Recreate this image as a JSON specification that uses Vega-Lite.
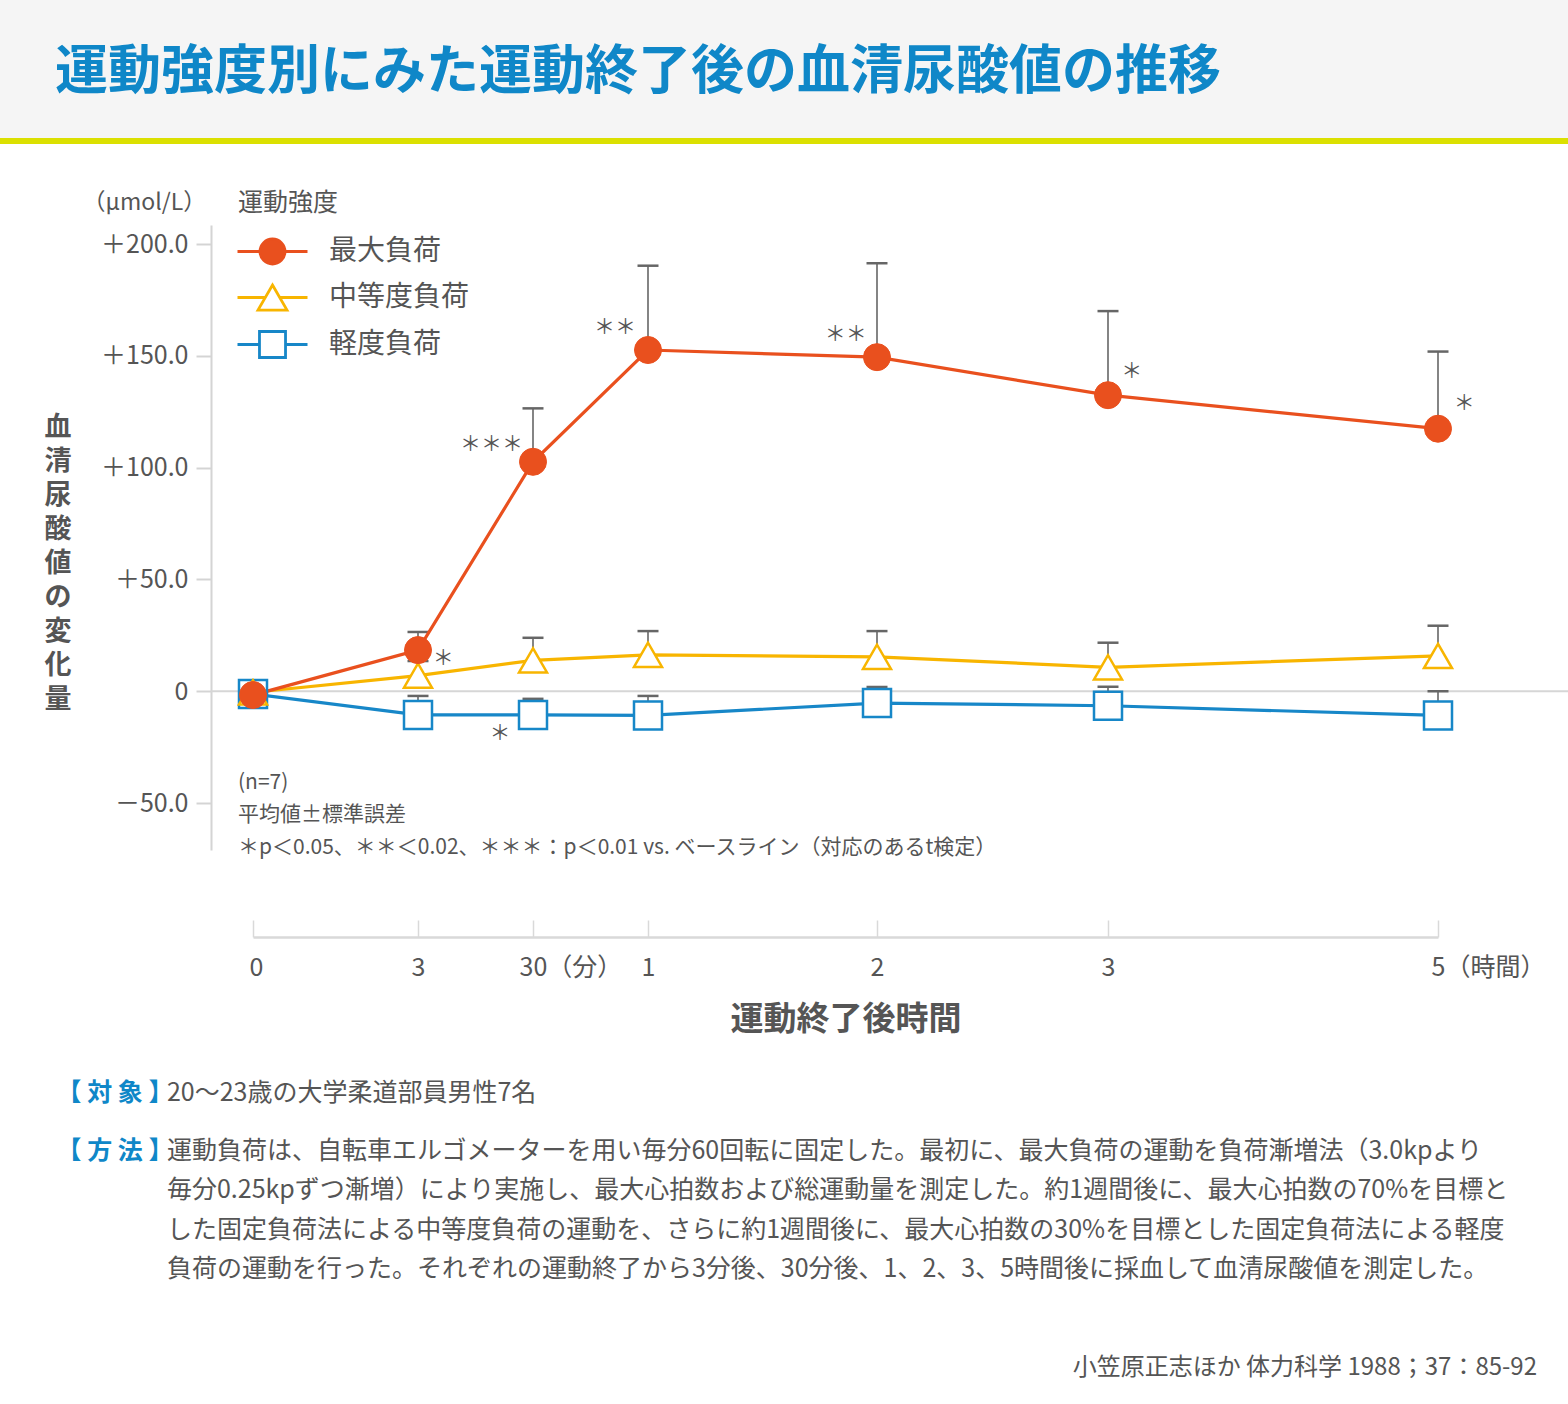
{
  "$schema": "https://vega.github.io/schema/vega-lite/v6.json",
  "width": 1357,
  "height": 625,
  "autosize": {"type": "none"},
  "padding": {"left": 211, "top": 225, "right": 0, "bottom": 554},
  "background": "#ffffff",
  "config": {
    "font": "Noto Sans CJK JP",
    "view": {"stroke": null},
    "axis": {"labelFont": "Noto Sans CJK JP", "titleFont": "Noto Sans CJK JP"},
    "legend": {"labelFont": "Noto Sans CJK JP", "titleFont": "Noto Sans CJK JP"}
  },
  "datasets": {
    "uric": [
      {"series": "軽度負荷", "t": 0, "mean": -1.2, "upper": null},
      {"series": "軽度負荷", "t": 3, "mean": -10.6, "upper": -2.1},
      {"series": "軽度負荷", "t": 30, "mean": -10.6, "upper": -3.4},
      {"series": "軽度負荷", "t": 60, "mean": -10.8, "upper": -2.1},
      {"series": "軽度負荷", "t": 120, "mean": -5.3, "upper": 1.9},
      {"series": "軽度負荷", "t": 180, "mean": -6.5, "upper": 2.0},
      {"series": "軽度負荷", "t": 300, "mean": -10.8, "upper": 0.0},
      {"series": "中等度負荷", "t": 0, "mean": -0.5, "upper": null},
      {"series": "中等度負荷", "t": 3, "mean": 7.0, "upper": 13.5},
      {"series": "中等度負荷", "t": 30, "mean": 13.8, "upper": 23.9},
      {"series": "中等度負荷", "t": 60, "mean": 16.3, "upper": 26.9},
      {"series": "中等度負荷", "t": 120, "mean": 15.4, "upper": 26.9},
      {"series": "中等度負荷", "t": 180, "mean": 10.7, "upper": 21.7},
      {"series": "中等度負荷", "t": 300, "mean": 15.8, "upper": 29.3},
      {"series": "最大負荷", "t": 0, "mean": -1.7, "upper": null},
      {"series": "最大負荷", "t": 3, "mean": 18.4, "upper": 26.5},
      {"series": "最大負荷", "t": 30, "mean": 102.6, "upper": 126.5},
      {"series": "最大負荷", "t": 60, "mean": 152.6, "upper": 190.3},
      {"series": "最大負荷", "t": 120, "mean": 149.4, "upper": 191.4},
      {"series": "最大負荷", "t": 180, "mean": 132.4, "upper": 170.0},
      {"series": "最大負荷", "t": 300, "mean": 117.4, "upper": 151.9}
    ],
    "sig": [
      {"t": 8.94, "v": 14.3, "label": "＊"},
      {"t": 20.26, "v": 110.1, "label": "＊＊＊"},
      {"t": 51.4, "v": 162.3, "label": "＊＊"},
      {"t": 111.8, "v": 159.3, "label": "＊＊"},
      {"t": 188.6, "v": 142.6, "label": "＊"},
      {"t": 309.5, "v": 128.4, "label": "＊"},
      {"t": 22.25, "v": -19.3, "label": "＊"}
    ],
    "one": [{}]
  },
  "layer": [
    {
      "data": {"name": "one"},
      "mark": {"type": "rect", "fill": "#f5f5f5"},
      "encoding": {
        "x": {"datum": -10, "type": "quantitative", "title": "運動終了後時間", "scale": {"type": "linear", "domain": [0, 3, 30, 60, 120, 180, 300], "range": [42, 207, 322, 437, 666, 897, 1227], "nice": false, "zero": false}},
        "x2": {"datum": 500},
        "y": {"datum": 313.6, "type": "quantitative", "title": null, "scale": {"type": "linear", "domain": [-71, 208.5], "nice": false, "zero": false}},
        "y2": {"datum": 247.4}
      }
    },
    {
      "data": {"name": "one"},
      "mark": {"type": "rect", "fill": "#dbe000"},
      "encoding": {
        "x": {"datum": -10, "type": "quantitative", "title": "運動終了後時間", "scale": {"type": "linear", "domain": [0, 3, 30, 60, 120, 180, 300], "range": [42, 207, 322, 437, 666, 897, 1227], "nice": false, "zero": false}},
        "x2": {"datum": 500},
        "y": {"datum": 247.4, "type": "quantitative", "title": null, "scale": {"type": "linear", "domain": [-71, 208.5], "nice": false, "zero": false}},
        "y2": {"datum": 244.7}
      }
    },
    {
      "data": {"name": "one"},
      "mark": {"type": "rule", "color": "#d6d6d6", "strokeWidth": 2},
      "encoding": {
        "y": {"datum": 0, "type": "quantitative", "title": null, "scale": {"type": "linear", "domain": [-71, 208.5], "nice": false, "zero": false}}
      }
    },
    {
      "data": {"name": "uric"},
      "transform": [{"filter": "isValid(datum.upper)"}],
      "mark": {"type": "rule", "color": "#666666", "strokeWidth": 1.6},
      "encoding": {
        "x": {
          "field": "t", "type": "quantitative", "title": "運動終了後時間",
          "scale": {"type": "linear", "domain": [0, 3, 30, 60, 120, 180, 300], "range": [42, 207, 322, 437, 666, 897, 1227], "nice": false, "zero": false},
          "axis": {
            "values": [0, 3, 30, 60, 120, 180, 300],
            "labelExpr": "datum.value == 0 ? '0' : datum.value == 3 ? '3' : datum.value == 30 ? '30（分）' : datum.value == 60 ? '1' : datum.value == 120 ? '2' : datum.value == 180 ? '3' : '5（時間）'",
            "labelAlign": {"condition": {"test": "datum.value == 30 || datum.value == 300", "value": "left"}, "value": "center"},
            "labelOffset": {"condition": [{"test": "datum.value == 30", "value": -14}, {"test": "datum.value == 300", "value": -7}, {"test": "datum.value == 0", "value": 3}], "value": 0},
            "offset": 87,
            "grid": false,
            "domainColor": "#d9d9d9",
            "domainWidth": 2.5,
            "tickColor": "#d9d9d9",
            "tickWidth": 1.5,
            "tickSize": -17,
            "labelPadding": 35,
            "labelFontSize": 25,
            "labelColor": "#555555",
            "labelFlush": false,
            "labelOverlap": false,
            "titleFontSize": 33,
            "titleFontWeight": "bold",
            "titleColor": "#555555",
            "titlePadding": 23
          }
        },
        "y": {
          "field": "mean", "type": "quantitative", "title": null,
          "scale": {"type": "linear", "domain": [-71, 208.5], "nice": false, "zero": false},
          "axis": {
            "values": [-50, 0, 50, 100, 150, 200],
            "labelExpr": "datum.value > 0 ? '＋' + format(datum.value, '.1f') : datum.value < 0 ? '－' + format(-datum.value, '.1f') : '0'",
            "grid": false,
            "domainColor": "#d4d4d4",
            "domainWidth": 2,
            "tickColor": "#d4d4d4",
            "tickWidth": 2,
            "tickSize": 15,
            "labelPadding": 8,
            "labelFontSize": 25,
            "labelColor": "#555555"
          }
        },
        "y2": {"field": "upper"}
      }
    },
    {
      "data": {"name": "uric"},
      "transform": [{"filter": "isValid(datum.upper)"}],
      "mark": {"type": "point", "shape": "M-1,0H1", "size": 441, "filled": false, "stroke": "#666666", "strokeWidth": 2.5, "opacity": 1},
      "encoding": {
        "x": {"field": "t", "type": "quantitative", "title": "運動終了後時間", "scale": {"type": "linear", "domain": [0, 3, 30, 60, 120, 180, 300], "range": [42, 207, 322, 437, 666, 897, 1227], "nice": false, "zero": false}},
        "y": {"field": "upper", "type": "quantitative", "title": null, "scale": {"type": "linear", "domain": [-71, 208.5], "nice": false, "zero": false}}
      }
    },
    {
      "data": {"name": "uric"},
      "transform": [{"filter": "datum.series == '軽度負荷'"}],
      "mark": {"type": "line", "strokeWidth": 3.2, "stroke": "#1787c8"},
      "encoding": {
        "x": {"field": "t", "type": "quantitative", "title": "運動終了後時間", "scale": {"type": "linear", "domain": [0, 3, 30, 60, 120, 180, 300], "range": [42, 207, 322, 437, 666, 897, 1227], "nice": false, "zero": false}},
        "y": {"field": "mean", "type": "quantitative", "title": null, "scale": {"type": "linear", "domain": [-71, 208.5], "nice": false, "zero": false}}
      }
    },
    {
      "data": {"name": "uric"},
      "transform": [{"filter": "datum.series == '中等度負荷'"}],
      "mark": {"type": "line", "strokeWidth": 3.2, "stroke": "#f8b500"},
      "encoding": {
        "x": {"field": "t", "type": "quantitative", "title": "運動終了後時間", "scale": {"type": "linear", "domain": [0, 3, 30, 60, 120, 180, 300], "range": [42, 207, 322, 437, 666, 897, 1227], "nice": false, "zero": false}},
        "y": {"field": "mean", "type": "quantitative", "title": null, "scale": {"type": "linear", "domain": [-71, 208.5], "nice": false, "zero": false}}
      }
    },
    {
      "data": {"name": "uric"},
      "transform": [{"filter": "datum.series == '最大負荷'"}],
      "mark": {"type": "line", "strokeWidth": 3.2, "stroke": "#e9501e"},
      "encoding": {
        "x": {"field": "t", "type": "quantitative", "title": "運動終了後時間", "scale": {"type": "linear", "domain": [0, 3, 30, 60, 120, 180, 300], "range": [42, 207, 322, 437, 666, 897, 1227], "nice": false, "zero": false}},
        "y": {"field": "mean", "type": "quantitative", "title": null, "scale": {"type": "linear", "domain": [-71, 208.5], "nice": false, "zero": false}}
      }
    },
    {
      "data": {"name": "uric"},
      "transform": [{"filter": "datum.series == '軽度負荷'"}],
      "mark": {"type": "point", "shape": "square", "filled": false, "fill": "#ffffff", "stroke": "#1787c8", "size": 784, "strokeWidth": 2.5, "opacity": 1},
      "encoding": {
        "x": {"field": "t", "type": "quantitative", "title": "運動終了後時間", "scale": {"type": "linear", "domain": [0, 3, 30, 60, 120, 180, 300], "range": [42, 207, 322, 437, 666, 897, 1227], "nice": false, "zero": false}},
        "y": {"field": "mean", "type": "quantitative", "title": null, "scale": {"type": "linear", "domain": [-71, 208.5], "nice": false, "zero": false}}
      }
    },
    {
      "data": {"name": "uric"},
      "transform": [{"filter": "datum.series == '中等度負荷'"}],
      "mark": {"type": "point", "shape": "triangle-up", "filled": false, "fill": "#ffffff", "stroke": "#f8b500", "size": 784, "strokeWidth": 2.5, "opacity": 1},
      "encoding": {
        "x": {"field": "t", "type": "quantitative", "title": "運動終了後時間", "scale": {"type": "linear", "domain": [0, 3, 30, 60, 120, 180, 300], "range": [42, 207, 322, 437, 666, 897, 1227], "nice": false, "zero": false}},
        "y": {"field": "mean", "type": "quantitative", "title": null, "scale": {"type": "linear", "domain": [-71, 208.5], "nice": false, "zero": false}}
      }
    },
    {
      "data": {"name": "uric"},
      "transform": [{"filter": "datum.series == '最大負荷'"}],
      "mark": {"type": "point", "shape": "circle", "filled": true, "fill": "#e9501e", "stroke": "#e9501e", "size": 729, "strokeWidth": 1, "opacity": 1},
      "encoding": {
        "x": {"field": "t", "type": "quantitative", "title": "運動終了後時間", "scale": {"type": "linear", "domain": [0, 3, 30, 60, 120, 180, 300], "range": [42, 207, 322, 437, 666, 897, 1227], "nice": false, "zero": false}},
        "y": {"field": "mean", "type": "quantitative", "title": null, "scale": {"type": "linear", "domain": [-71, 208.5], "nice": false, "zero": false}}
      }
    },
    {
      "data": {"name": "uric"},
      "transform": [{"filter": "false"}],
      "mark": {"type": "point", "filled": false, "size": 784, "strokeWidth": 2.5, "opacity": 1},
      "encoding": {
        "x": {"field": "t", "type": "quantitative", "title": "運動終了後時間", "scale": {"type": "linear", "domain": [0, 3, 30, 60, 120, 180, 300], "range": [42, 207, 322, 437, 666, 897, 1227], "nice": false, "zero": false}},
        "y": {"field": "mean", "type": "quantitative", "title": null, "scale": {"type": "linear", "domain": [-71, 208.5], "nice": false, "zero": false}},
        "color": {
          "field": "series", "type": "nominal", "title": "運動強度",
          "scale": {"domain": ["最大負荷", "中等度負荷", "軽度負荷"], "range": ["#e9501e", "#f8b500", "#1787c8"]},
          "legend": {
            "orient": "none",
            "legendX": 27,
            "legendY": -34,
            "padding": 0,
            "titleFontSize": 25,
            "titleFontWeight": "normal",
            "titleColor": "#555555",
            "titlePadding": 20,
            "labelFontSize": 28,
            "labelColor": "#555555",
            "symbolSize": 784,
            "symbolStrokeWidth": 2.8,
            "symbolOffset": 19,
            "labelOffset": 41,
            "rowPadding": 9
          }
        },
        "shape": {"field": "series", "type": "nominal", "title": "運動強度", "scale": {"domain": ["最大負荷", "中等度負荷", "軽度負荷"], "range": [
          "M-2.5,0H2.5M0.893,0A0.893,0.893,0,1,1,-0.893,0A0.893,0.893,0,1,1,0.893,0Z",
          "M-2.5,0H-0.52M0.52,0H2.5M0,-0.897L1.036,0.897L-1.036,0.897Z",
          "M-2.5,0H-0.93M0.93,0H2.5M-0.93,-0.93H0.93V0.93H-0.93Z"
        ]}},
        "fill": {"field": "series", "type": "nominal", "title": "運動強度", "scale": {"domain": ["最大負荷", "中等度負荷", "軽度負荷"], "range": ["#e9501e", "#ffffff", "#ffffff"]}}
      }
    },
    {
      "data": {"name": "sig"},
      "mark": {"type": "text", "fontSize": 21, "color": "#555555", "align": "center", "baseline": "middle"},
      "encoding": {
        "x": {"field": "t", "type": "quantitative", "title": "運動終了後時間", "scale": {"type": "linear", "domain": [0, 3, 30, 60, 120, 180, 300], "range": [42, 207, 322, 437, 666, 897, 1227], "nice": false, "zero": false}},
        "y": {"field": "v", "type": "quantitative", "title": null, "scale": {"type": "linear", "domain": [-71, 208.5], "nice": false, "zero": false}},
        "text": {"field": "label"}
      }
    },
    {
      "data": {"name": "one"},
      "mark": {"type": "text", "fontSize": 21, "color": "#555555", "align": "left", "baseline": "top", "lineHeight": 32.5,
        "text": ["(n=7)", "平均値±標準誤差", "＊p＜0.05、＊＊＜0.02、＊＊＊：p＜0.01 vs. ベースライン（対応のあるt検定）"]},
      "encoding": {
        "x": {"datum": -0.273, "type": "quantitative", "title": "運動終了後時間", "scale": {"type": "linear", "domain": [0, 3, 30, 60, 120, 180, 300], "range": [42, 207, 322, 437, 666, 897, 1227], "nice": false, "zero": false}},
        "y": {"datum": -36.0, "type": "quantitative", "title": null, "scale": {"type": "linear", "domain": [-71, 208.5], "nice": false, "zero": false}}
      }
    },
    {
      "data": {"name": "one"},
      "mark": {"type": "text", "fontSize": 23, "color": "#555555", "align": "right", "baseline": "middle", "text": "（μmol/L）"},
      "encoding": {
        "x": {"datum": -0.85, "type": "quantitative", "title": "運動終了後時間", "scale": {"type": "linear", "domain": [0, 3, 30, 60, 120, 180, 300], "range": [42, 207, 322, 437, 666, 897, 1227], "nice": false, "zero": false}},
        "y": {"datum": 218.3, "type": "quantitative", "title": null, "scale": {"type": "linear", "domain": [-71, 208.5], "nice": false, "zero": false}}
      }
    },
    {
      "data": {"name": "one"},
      "mark": {"type": "text", "fontSize": 27, "fontWeight": "bold", "color": "#555555", "align": "center", "baseline": "top", "lineHeight": 34,
        "text": ["血", "清", "尿", "酸", "値", "の", "変", "化", "量"]},
      "encoding": {
        "x": {"datum": -3.545, "type": "quantitative", "title": "運動終了後時間", "scale": {"type": "linear", "domain": [0, 3, 30, 60, 120, 180, 300], "range": [42, 207, 322, 437, 666, 897, 1227], "nice": false, "zero": false}},
        "y": {"datum": 123.6, "type": "quantitative", "title": null, "scale": {"type": "linear", "domain": [-71, 208.5], "nice": false, "zero": false}}
      }
    },
    {
      "data": {"name": "one"},
      "mark": {"type": "text", "fontSize": 53, "fontWeight": "bold", "color": "#0f87c8", "align": "left", "baseline": "middle", "text": "運動強度別にみた運動終了後の血清尿酸値の推移"},
      "encoding": {
        "x": {"datum": -3.6, "type": "quantitative", "title": "運動終了後時間", "scale": {"type": "linear", "domain": [0, 3, 30, 60, 120, 180, 300], "range": [42, 207, 322, 437, 666, 897, 1227], "nice": false, "zero": false}},
        "y": {"datum": 276.4, "type": "quantitative", "title": null, "scale": {"type": "linear", "domain": [-71, 208.5], "nice": false, "zero": false}}
      }
    },
    {
      "data": {"name": "one"},
      "mark": {"type": "text", "fontSize": 25, "fontWeight": "bold", "color": "#0f87c8", "align": "right", "baseline": "middle", "text": "【 対 象 】"},
      "encoding": {
        "x": {"datum": -1.445, "type": "quantitative", "title": "運動終了後時間", "scale": {"type": "linear", "domain": [0, 3, 30, 60, 120, 180, 300], "range": [42, 207, 322, 437, 666, 897, 1227], "nice": false, "zero": false}},
        "y": {"datum": -179.7, "type": "quantitative", "title": null, "scale": {"type": "linear", "domain": [-71, 208.5], "nice": false, "zero": false}}
      }
    },
    {
      "data": {"name": "one"},
      "mark": {"type": "text", "fontSize": 25, "color": "#555555", "align": "left", "baseline": "middle", "text": "20〜23歳の大学柔道部員男性7名"},
      "encoding": {
        "x": {"datum": -1.564, "type": "quantitative", "title": "運動終了後時間", "scale": {"type": "linear", "domain": [0, 3, 30, 60, 120, 180, 300], "range": [42, 207, 322, 437, 666, 897, 1227], "nice": false, "zero": false}},
        "y": {"datum": -179.7, "type": "quantitative", "title": null, "scale": {"type": "linear", "domain": [-71, 208.5], "nice": false, "zero": false}}
      }
    },
    {
      "data": {"name": "one"},
      "mark": {"type": "text", "fontSize": 25, "fontWeight": "bold", "color": "#0f87c8", "align": "right", "baseline": "middle", "text": "【 方 法 】"},
      "encoding": {
        "x": {"datum": -1.445, "type": "quantitative", "title": "運動終了後時間", "scale": {"type": "linear", "domain": [0, 3, 30, 60, 120, 180, 300], "range": [42, 207, 322, 437, 666, 897, 1227], "nice": false, "zero": false}},
        "y": {"datum": -205.6, "type": "quantitative", "title": null, "scale": {"type": "linear", "domain": [-71, 208.5], "nice": false, "zero": false}}
      }
    },
    {
      "data": {"name": "one"},
      "mark": {"type": "text", "fontSize": 25, "color": "#555555", "align": "left", "baseline": "top", "lineHeight": 39.5,
        "text": [
          "運動負荷は、自転車エルゴメーターを用い毎分60回転に固定した。最初に、最大負荷の運動を負荷漸増法（3.0kpより",
          "毎分0.25kpずつ漸増）により実施し、最大心拍数および総運動量を測定した。約1週間後に、最大心拍数の70%を目標と",
          "した固定負荷法による中等度負荷の運動を、さらに約1週間後に、最大心拍数の30%を目標とした固定負荷法による軽度",
          "負荷の運動を行った。それぞれの運動終了から3分後、30分後、1、2、3、5時間後に採血して血清尿酸値を測定した。"
        ]},
      "encoding": {
        "x": {"datum": -1.564, "type": "quantitative", "title": "運動終了後時間", "scale": {"type": "linear", "domain": [0, 3, 30, 60, 120, 180, 300], "range": [42, 207, 322, 437, 666, 897, 1227], "nice": false, "zero": false}},
        "y": {"datum": -200.2, "type": "quantitative", "title": null, "scale": {"type": "linear", "domain": [-71, 208.5], "nice": false, "zero": false}}
      }
    },
    {
      "data": {"name": "one"},
      "mark": {"type": "text", "fontSize": 24, "color": "#555555", "align": "right", "baseline": "middle", "text": "小笠原正志ほか 体力科学 1988；37：85-92"},
      "encoding": {
        "x": {"datum": 336, "type": "quantitative", "title": "運動終了後時間", "scale": {"type": "linear", "domain": [0, 3, 30, 60, 120, 180, 300], "range": [42, 207, 322, 437, 666, 897, 1227], "nice": false, "zero": false}},
        "y": {"datum": -302.8, "type": "quantitative", "title": null, "scale": {"type": "linear", "domain": [-71, 208.5], "nice": false, "zero": false}}
      }
    }
  ]
}
